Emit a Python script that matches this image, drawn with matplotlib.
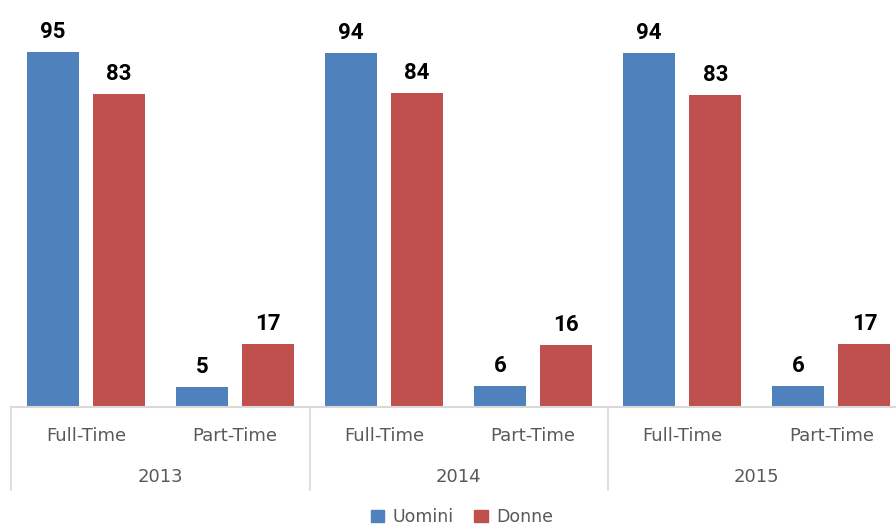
import matplotlib
matplotlib.use("Agg")
import matplotlib.pyplot as plt
from matplotlib.patches import Patch
import numpy as np
from decimal import Decimal, ROUND_HALF_UP

years = ["2013", "2014", "2015"]
types = ["Full-Time", "Part-Time"]
uomini = [94.7, 5.3, 94.4, 5.6, 94.3, 5.7]
donne = [83.3, 16.7, 83.6, 16.4, 83.2, 16.8]
series_names = ["Uomini", "Donne"]
colors = ["#4F81BD", "#C0504D"]

plt.rcParams['font.family'] = ['DejaVu Sans']

W, H = 896, 527
fig = plt.figure(figsize=(W / 100, H / 100), dpi=100)
left_px, right_px = 11.3, 905.9
base_px = 407
ax = fig.add_axes([left_px / W, (H - base_px) / H, (right_px - left_px) / W, base_px / H])

x = np.arange(len(uomini))
bw = 0.349
off = 0.222
b1 = ax.bar(x - off, uomini, bw, color=colors[0], label=series_names[0])
b2 = ax.bar(x + off, donne, bw, color=colors[1], label=series_names[1])


def fmt(v):
    return str(Decimal(str(v)).quantize(Decimal("1"), rounding=ROUND_HALF_UP))


for bars, vals in ((b1, uomini), (b2, donne)):
    for rect, v in zip(bars, vals):
        ax.annotate(fmt(v), (rect.get_x() + rect.get_width() / 2, v),
                    xytext=(0, 14), textcoords="offset pixels",
                    ha="center", va="baseline", fontsize=16, fontweight="bold",
                    color="#000000", family=["Roboto", "DejaVu Sans"])

ax.set_xlim(-0.5, len(uomini) - 0.5)
ax.set_ylim(0, base_px / 3.752)
ax.axis("off")

grid_c = "#D9D9D9"
ax.plot([-0.5, len(uomini) - 0.5], [0, 0], color=grid_c, lw=1.5, clip_on=False,
        transform=ax.get_xaxis_transform())
sep_depth = -83 / base_px
for xs in np.arange(-0.5, len(uomini), 2):
    ax.plot([xs, xs], [0, sep_depth], color=grid_c, lw=1.2, clip_on=False,
            transform=ax.get_xaxis_transform())

for i in range(len(uomini)):
    ax.text(i, -29 / base_px, types[i % 2], transform=ax.get_xaxis_transform(),
            ha="center", va="center", fontsize=13, color="#595959")
for j, yr in enumerate(years):
    ax.text(2 * j + 0.5, -70 / base_px, yr, transform=ax.get_xaxis_transform(),
            ha="center", va="center", fontsize=13, color="#595959")

handles = [Patch(color=colors[0]), Patch(color=colors[1])]
fig.legend(handles, series_names, loc="center", bbox_to_anchor=(462 / W, 1 - 517 / H),
           ncol=2, frameon=False, fontsize=12.5, handlelength=0.75, handleheight=0.75,
           handletextpad=0.5, columnspacing=1.2, labelcolor="#595959")

fig.savefig("out.png", dpi=100)
